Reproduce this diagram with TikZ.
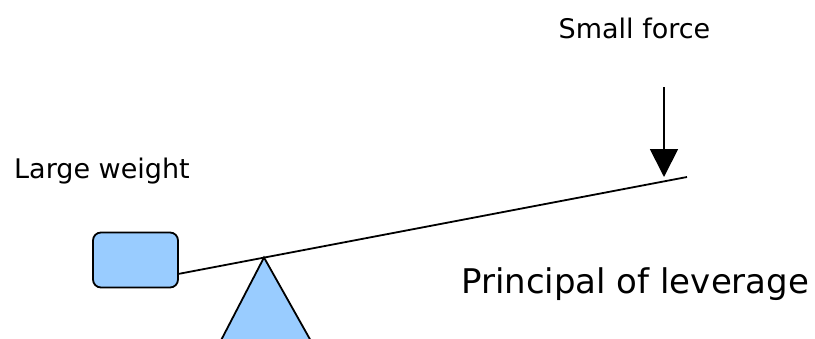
\documentclass[tikz,border=0pt]{standalone}
\usepackage{fontspec}
\setmainfont{DejaVu Sans}
\usetikzlibrary{arrows.meta}
\definecolor{lightblue}{HTML}{99CCFF}
\begin{document}
\begin{tikzpicture}[x=1pt,y=-1pt,
  ln/.style={line width=1.8pt},
  weightbox/.style={draw=black,ln,fill=lightblue,rounded corners=8pt,minimum width=85pt,minimum height=55pt,inner sep=0pt},
  lbl/.style={inner sep=0pt,font=\fontsize{27}{32}\selectfont},
  bigl/.style={inner sep=0pt,font=\fontsize{34}{40}\selectfont}]
\useasboundingbox (0,0) rectangle (815,338);
\clip (0,0) rectangle (815,338);
\node[weightbox] (w) at (135.5,260) {};
\coordinate (L) at (178,274);
\coordinate (A) at (264,257.5);
\coordinate (R) at (687,177);
\coordinate (BL) at (216,350);
\coordinate (BR) at (316,350);
\draw[ln,fill=lightblue,line join=miter] (BL) -- (A) -- (BR) -- cycle;
\draw[ln] (L) -- (R);
\coordinate (F) at (664,87);
\coordinate (T) at (664,177);
\draw[ln,-{Triangle[width=28pt,length=28pt]}] (F) -- (T);
\node[lbl,anchor=base] (sf) at (634.5,38) {Small force};
\node[lbl,anchor=base west] (lw) at (14,178) {Large weight};
\node[bigl,anchor=base west] (pl) at (461,293) {Principal of leverage};
\end{tikzpicture}
\end{document}
